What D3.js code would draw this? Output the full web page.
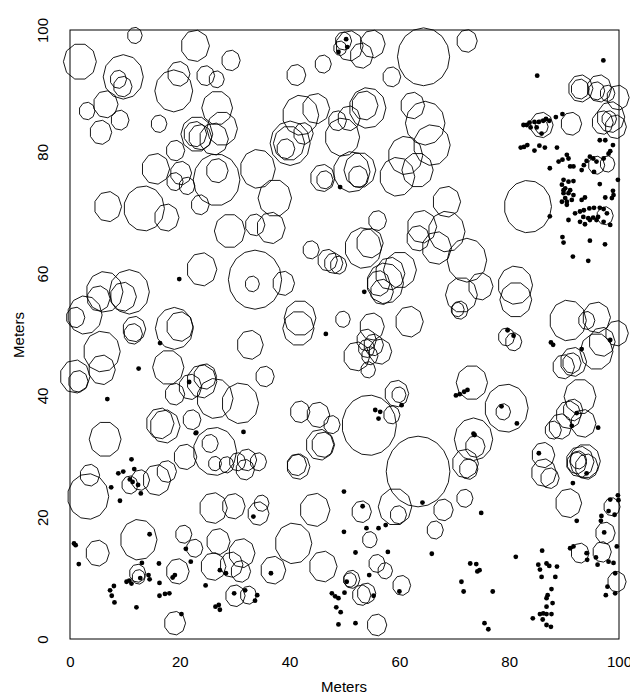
<!DOCTYPE html>
<meta charset="utf-8">
<head>
  <title>Stem map</title>
</head>

<style>
body { margin: 0; background: #fff; }
text { font-family: "Liberation Sans", Arial, sans-serif; font-size: 15px; fill: #000; }
.ring { fill: none; stroke: #000; stroke-width: 0.9; }
.dot { fill: #000; }
</style>

<body>
  <svg width="630" height="696"></svg>

  <script src="https://cdnjs.cloudflare.com/ajax/libs/d3/7.8.5/d3.min.js"></script>
  <script>

// circles: [x, y, radius] in meters
var circles = [
  [1.8,94.8,3.0],[11.8,99.1,1.35],[22.8,97.4,2.6],[29.3,95.0,1.7],[9.7,92.3,3.65],[8.8,91.9,1.5],[9.6,90.7,1.7],
  [18.9,90.0,3.45],[19.8,92.8,2.05],[24.7,92.5,1.65],[26.7,91.9,1.4],[6.5,87.8,2.25],[3.1,86.7,1.45],[9.1,85.2,1.65],
  [5.6,83.2,2.0],[16.2,84.6,1.45],[26.8,87.2,2.8],[23.1,82.9,2.9],[22.8,82.9,2.1],[23.7,82.4,2.1],[26.2,82.1,2.65],
  [27.7,83.8,2.8],[19.2,80.2,1.7],[15.6,77.2,2.55],[20.2,76.5,1.95],[19.1,75.1,1.5],[21.3,74.4,1.45],[26.7,75.4,4.25],
  [26.8,76.9,2.0],[34.2,77.2,3.2],[6.9,71.0,2.5],[13.5,70.7,3.7],[17.6,69.2,2.25],[23.7,71.3,1.65],[29.1,67.0,2.8],

  [49.8,98.2,1.5],[50.9,97.4,2.5],[53.1,95.8,2.1],[55.1,97.7,2.3],[49.2,97.0,1.2],[46.1,94.4,1.5],[41.2,92.6,1.75],
  [58.6,92.3,1.65],[64.4,95.6,4.75],[42.0,86.0,3.3],[44.8,87.1,2.5],[40.1,81.4,3.65],[39.9,81.4,2.85],[39.3,80.5,1.65],
  [42.5,83.0,1.8],[48.7,85.1,1.65],[50.8,85.5,2.05],[49.6,82.4,3.15],[54.2,87.2,3.35],[53.7,87.6,2.4],[62.4,87.6,2.2],
  [64.7,84.7,3.6],[65.9,81.1,3.35],[61.1,79.4,3.15],[59.6,75.9,3.2],[63.3,77.0,2.85],[46.0,75.7,2.25],[46.4,75.4,1.5],
  [51.3,76.7,3.35],[52.8,77.0,2.9],[52.5,75.9,1.8],[37.3,72.4,3.05],[56.0,68.7,1.65],[33.7,68.0,1.8],[36.6,67.5,2.6],
  [68.6,71.8,2.55],

  [72.3,98.2,1.88],[93.0,90.4,2.25],[92.9,90.3,1.65],[96.4,90.4,2.25],[95.9,90.0,1.5],[97.9,89.6,1.35],[99.8,88.9,2.05],
  [97.0,84.8,1.95],[98.5,85.7,2.55],[99.4,84.1,1.95],[98.2,85.4,1.35],[85.9,84.4,2.1],[85.9,84.1,1.2],[91.3,84.6,1.9],
  [97.9,78.0,1.35],[95.9,77.8,1.5],[83.4,71.0,4.3],[97.45,69.5,1.5],

  [24.0,60.7,2.75],[6.3,57.0,3.35],[5.2,55.9,2.1],[10.8,57.0,3.65],[9.7,56.2,2.4],[2.7,53.2,3.15],[1.0,52.8,1.7],
  [11.7,50.9,2.1],[11.5,50.1,1.7],[19.0,51.0,3.45],[20.0,51.3,2.45],[5.8,47.2,3.35],[5.8,44.2,2.45],[0.9,43.1,2.75],
  [1.5,42.3,1.8],[17.9,44.6,2.85],[24.0,42.3,2.75],[24.6,43.1,2.1],[21.9,41.4,2.1],[19.1,40.2,1.8],[26.4,39.5,3.3],
  [31.0,38.7,3.35],[16.4,35.4,2.55],[17.3,34.9,2.75],[22.2,36.0,1.65],[6.4,32.8,2.9],[32.8,48.3,2.4],[33.7,59.0,4.85],
  [33.2,58.3,1.3],

  [43.9,63.9,1.5],[46.9,62.2,1.8],[48.0,61.7,1.7],[48.9,61.4,1.5],[53.4,64.2,3.35],[54.6,65.0,2.45],[57.4,58.4,3.35],
  [56.2,58.4,2.1],[58.3,60.0,2.7],[60.1,60.6,3.0],[56.8,57.0,2.1],[61.8,52.1,2.55],[55.0,51.3,2.25],[54.0,49.1,1.8],
  [55.3,48.3,1.8],[52.2,46.4,2.4],[56.5,47.2,2.1],[54.6,46.5,1.5],[54.3,44.2,1.35],[54.0,47.7,1.5],[41.9,52.7,2.9],
  [41.6,51.0,2.85],[49.7,52.5,1.35],[35.5,43.1,1.7],[38.9,58.4,2.0],[41.9,37.3,1.8],[45.2,36.8,2.1],[47.7,35.2,1.5],
  [54.5,35.1,4.95],[59.5,40.3,2.2],[59.9,40.1,1.3],[58.6,36.8,1.5],[63.4,27.5,5.8],[64.1,67.7,2.7],[63.4,65.8,2.1],

  [68.6,66.9,3.35],[72.3,62.2,3.6],[66.8,64.2,2.7],[71.3,56.5,2.9],[74.8,57.9,2.25],[71.0,54.0,1.5],[70.6,54.1,1.2],
  [81.1,58.1,3.15],[81.2,55.7,2.9],[79.5,49.6,1.5],[80.8,48.8,1.5],[90.7,52.3,3.35],[95.9,52.8,2.55],[94.1,52.3,1.5],
  [99.6,50.2,2.1],[95.9,47.2,3.0],[96.9,48.8,2.4],[91.7,45.5,2.4],[89.9,44.7,2.0],[91.4,45.3,1.7],[73.2,42.1,2.85],
  [79.5,37.9,3.95],[78.9,37.3,1.35],[92.9,39.8,2.9],[90.8,36.8,2.3],[91.6,37.6,1.8],[93.5,35.4,2.3],[89.3,34.9,2.1],
  [88.0,34.3,1.5],

  [25.5,32.1,1.5],[26.4,30.8,3.95],[21.0,29.9,2.1],[26.4,28.8,1.2],[28.5,28.6,1.35],[30.5,29.1,1.5],[32.2,29.4,1.8],
  [31.9,27.8,1.7],[3.6,26.9,1.8],[3.3,23.4,3.75],[10.9,25.3,1.5],[12.8,26.1,1.7],[15.8,26.1,2.55],[17.6,27.5,1.8],
  [26.1,21.5,2.55],[29.8,21.8,2.1],[34.3,20.6,1.95],[34.9,22.3,1.35],[12.5,16.3,3.35],[5.0,14.1,2.15],[20.7,17.2,1.5],
  [22.7,14.9,1.5],[27.0,16.0,2.15],[31.3,14.1,2.4],[26.1,11.9,2.3],[29.4,12.2,2.1],[31.1,11.1,1.8],[12.3,10.8,1.5],
  [12.5,10.2,1.2],[19.6,11.1,2.1],[30.1,7.1,1.8],[32.5,7.2,1.5],[19.1,2.6,1.95],

  [34.3,29.1,1.5],[45.5,31.9,2.55],[46.1,31.9,2.1],[41.6,28.3,2.1],[41.3,28.6,1.8],[59.2,21.7,3.05],[59.8,20.4,1.5],
  [68.0,21.2,1.8],[66.5,17.9,1.5],[44.6,21.2,2.75],[53.1,20.9,1.8],[40.7,15.7,3.35],[46.1,11.9,2.55],[37.0,11.3,2.3],
  [54.6,16.3,1.35],[55.9,12.4,1.5],[57.4,11.2,1.35],[51.3,9.8,1.5],[51.0,9.7,1.2],[54.0,7.5,1.7],[53.1,7.2,1.7],
  [60.4,8.8,1.65],[55.9,2.3,1.8],

  [73.5,32.8,3.5],[72.0,28.8,2.4],[73.8,31.6,1.8],[72.6,27.9,1.7],[71.9,23.1,1.5],[86.2,30.2,2.1],[86.3,27.3,2.3],
  [87.4,26.4,1.7],[92.9,29.1,2.55],[93.8,29.2,2.8],[92.3,28.9,1.8],[94.1,28.3,2.1],[92.6,29.4,1.5],[90.8,22.3,2.4],
  [98.7,21.7,1.5],[97.5,17.4,1.8],[92.9,14.1,1.65],[96.9,14.3,1.7],[99.6,9.4,1.7]
];

// dots: [x, y] in meters
var dots = [
  [50.3,98.5],[50.5,97.2],[48.9,96.4],[49.2,74.2],[97.15,95.0],[85.1,92.5],
  [82.6,84.4],[83.2,84.4],[83.7,84.8],[84.6,84.9],[85.4,84.9],[86.2,85.1],[86.7,85.4],[87.3,85.1],[88.5,85.7],[89.7,86.2],
  [85.9,83.0],[83.9,84.0],[85.0,84.0],[82.1,80.7],[82.7,80.8],[83.3,81.1],[84.6,80.2],[85.5,81.0],[86.5,80.7],[88.7,80.7],
  [87.4,77.3],[89.0,78.4],[89.7,78.7],[90.5,79.5],[90.8,78.9],[91.1,77.6],[91.7,77.6],[93.2,77.0],[93.6,77.8],[94.1,78.5],
  [94.7,79.2],[95.3,78.9],[95.9,78.4],[95.45,76.7],[97.2,78.9],[96.5,81.9],[97.5,81.9],[98.9,81.1],[98.4,80.1],[98.1,79.7],
  [99.8,75.4],[89.9,75.4],[90.8,75.1],[91.7,75.2],[89.6,74.6],[90.2,74.0],[91.1,73.7],[89.9,73.2],[90.8,73.2],[91.7,72.9],
  [90.2,72.4],[89.6,71.8],[90.5,71.8],[91.4,72.1],[90.5,71.3],[89.9,73.7],[93.2,72.1],[93.8,72.5],[96.5,74.7],[98.9,73.6],
  [99.0,72.9],[97.5,72.5],[98.7,72.4],[92.0,69.9],[92.9,70.2],[93.6,70.4],[94.6,70.7],[95.45,70.8],[96.5,70.8],[97.2,70.6],
  [97.8,69.9],[93.5,69.3],[94.4,69.1],[95.3,69.2],[96.2,69.3],[92.9,68.5],[93.8,68.1],[94.7,68.8],[95.9,68.8],[97.2,68.5],
  [98.4,68.0],[90.8,68.8],[87.4,69.4],
  [89.7,66.0],[89.9,65.1],[94.7,65.4],[97.45,64.8],[91.6,62.8],[94.4,62.1],
  [19.9,59.1],[16.4,48.6],[12.5,44.4],[6.8,39.4],[21.7,42.2],[23.0,33.9],
  [53.6,57.0],[46.6,50.1],[60.4,38.4],[55.6,37.6],[56.5,37.3],[56.2,36.2],
  [79.7,50.7],[80.8,49.8],[87.6,48.7],[88.0,48.3],[93.2,47.6],[98.4,49.1],[70.3,40.0],[71.0,40.2],[71.8,40.6],[72.4,40.9],
  [78.6,38.2],[81.4,35.4],[91.4,35.0],[96.2,34.7],[92.3,37.1],[73.5,33.7],
  [22.9,33.8],[31.6,34.0],[11.2,29.5],[11.7,27.9],[8.8,27.2],[9.7,27.5],[10.9,26.2],[11.4,25.8],[12.4,25.3],[12.9,23.9],
  [7.5,24.9],[9.1,22.7],[14.5,17.2],[0.73,15.7],[1.03,15.4],[1.6,12.3],[21.1,14.8],[22.0,12.7],[27.3,11.3],[28.4,10.8],
  [33.4,20.1],[13.1,12.5],[16.2,12.4],[14.3,10.5],[14.5,9.8],[10.3,9.4],[10.8,9.6],[11.2,9.1],[12.8,10.0],[16.3,9.2],
  [18.7,10.1],[19.1,10.5],[7.3,8.0],[8.0,8.7],[7.6,7.1],[8.1,6.0],[16.3,7.1],[17.3,7.4],[18.1,7.5],[12.1,5.2],
  [24.7,8.8],[29.9,7.5],[31.9,8.0],[26.5,5.3],[27.1,5.6],[27.3,4.8],[20.3,4.1],
  [36.6,10.8],[53.3,21.8],[49.9,24.2],[64.2,22.4],[49.9,17.6],[54.0,18.2],[56.2,18.2],[57.5,18.7],[52.0,14.2],[57.9,14.3],
  [65.9,14.0],[54.5,10.5],[50.4,9.4],[55.3,7.1],[60.0,7.8],[47.7,7.5],[48.3,7.0],[48.9,6.7],[50.0,7.6],[48.5,5.2],
  [49.3,4.4],[48.9,2.4],[52.0,2.6],[34.1,7.2],[33.7,6.3],
  [73.7,33.5],[85.4,30.5],[94.1,27.2],[91.6,25.6],[74.9,20.7],[92.3,19.4],[98.4,22.9],[99.8,23.6],[99.9,22.8],[98.1,21.0],
  [99.2,20.4],[96.8,20.2],[96.7,19.4],[97.3,17.5],[91.1,14.9],[91.7,15.2],[94.1,14.1],[94.2,13.0],[95.8,13.4],[96.1,12.2],
  [98.1,12.7],[99.0,12.5],[99.6,15.2],[99.3,10.8],[97.9,8.6],[97.6,7.2],[99.3,7.5],[81.2,13.5],[86.0,14.5],[85.3,12.2],
  [85.6,11.4],[85.9,10.2],[86.8,12.4],[87.3,12.0],[88.7,11.9],[88.4,10.2],[72.9,12.4],[74.0,12.3],[74.2,11.1],[74.6,11.3],
  [71.3,9.4],[71.7,7.8],[77.0,7.8],[87.7,8.2],[87.0,7.2],[86.8,6.7],[87.9,5.9],[86.8,5.3],[85.6,4.1],[86.2,4.2],
  [86.8,4.1],[87.7,4.1],[84.3,3.4],[86.1,3.2],[86.8,2.3],[87.6,2.0],[75.5,2.6],[76.2,1.6]
];

var ticks = [0, 20, 40, 60, 80, 100];
var axisTitle = "Meters";

const svg = d3.select('svg');

const x = d3.scaleLinear().domain([0, 100]).range([70, 619]);
const y = d3.scaleLinear().domain([0, 100]).range([639, 30]);

// circles are drawn in data units, as rough polygons
const ring = d3.line().curve(d3.curveLinearClosed);
function ringPath(c) {
  const n = Math.max(9, Math.round(c[2] * 3.4));
  const pts = d3.range(n).map(i => {
    const a = 2 * Math.PI * i / n;
    return [x(c[0] + c[2] * Math.cos(a)), y(c[1] + c[2] * Math.sin(a))];
  });
  return ring(pts);
}

svg.append('rect')
  .attr('x', 70).attr('y', 30)
  .attr('width', 549).attr('height', 609)
  .attr('fill', 'none').attr('stroke', '#000').attr('stroke-width', 1);

svg.append('g')
  .selectAll('path')
  .data(circles)
  .enter()
  .append('path')
  .attr('class', 'ring')
  .attr('d', ringPath);

svg.append('g')
  .selectAll('circle')
  .data(dots)
  .enter()
  .append('circle')
  .attr('class', 'dot')
  .attr('cx', d => x(d[0]))
  .attr('cy', d => y(d[1]))
  .attr('r', 2.4);

// axes
const xAxis = svg.append('g')
  .attr('transform', 'translate(0,639)')
  .call(d3.axisBottom(x).tickValues(ticks).tickSize(0).tickPadding(17));
xAxis.select('.domain').remove();
xAxis.selectAll('text').style('font-size', '15px').style('font-family', '"Liberation Sans", Arial, sans-serif');

const yAxis = svg.append('g')
  .attr('transform', 'translate(70,0)')
  .call(d3.axisLeft(y).tickValues(ticks).tickSize(0));
yAxis.select('.domain').remove();
yAxis.selectAll('text')
  .attr('transform', 'rotate(-90)')
  .attr('x', 0).attr('y', -22).attr('dy', 0)
  .attr('text-anchor', 'middle')
  .style('font-size', '15px').style('font-family', '"Liberation Sans", Arial, sans-serif');

svg.append('text')
  .attr('x', 344).attr('y', 692)
  .attr('text-anchor', 'middle')
  .text(axisTitle);

svg.append('text')
  .attr('transform', 'translate(24,335) rotate(-90)')
  .attr('text-anchor', 'middle')
  .text(axisTitle);

  </script>
</body>
</html>
